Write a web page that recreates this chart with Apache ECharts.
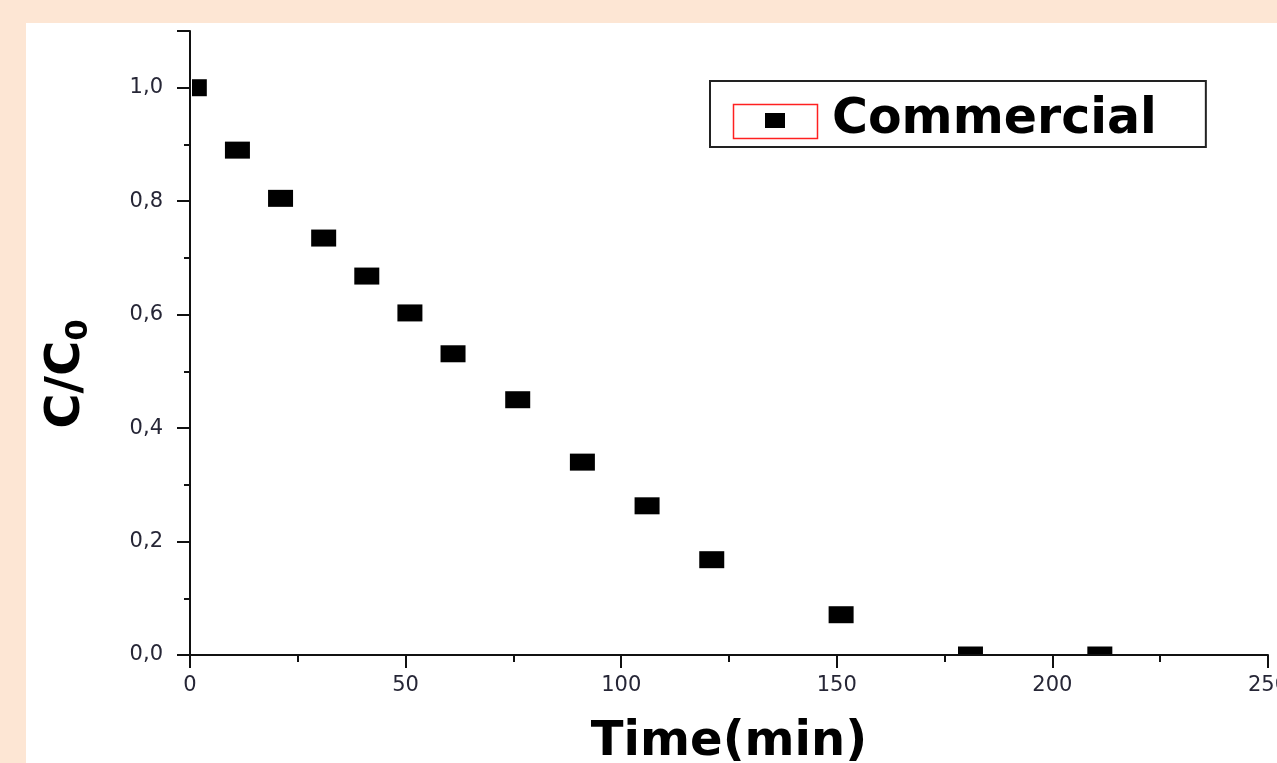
<!DOCTYPE html>
<html>
<head>
<meta charset="utf-8">
<script src="https://cdn.jsdelivr.net/npm/echarts@6/dist/echarts.min.js"></script>
<style>
html,body{margin:0;padding:0;background:#fde6d4;overflow:hidden;}
#c{width:1277px;height:763px;}
</style>
</head>
<body>
<div id="c"></div>
<script>
const seriesName = 'Commercial';
const timeMin = [1, 11, 21, 31, 41, 51, 61, 76, 91, 106, 121, 151, 181, 211];
const ratio = [1.0, 0.89, 0.805, 0.735, 0.668, 0.603, 0.531, 0.45, 0.34, 0.263, 0.168, 0.071, 0, 0];
const xTicks = [0, 50, 100, 150, 200, 250];
const yTicks = [0, 0.2, 0.4, 0.6, 0.8, 1.0];

const data = timeMin.map((t, i) => [t, ratio[i]]);
const chart = echarts.init(document.getElementById('c'), null, {renderer: 'canvas'});
const labelColor = '#262636';
const titleFont = 'DejaVu Sans';

chart.setOption({
  backgroundColor: '#fde6d4',
  animation: false,
  graphic: [
    {type: 'rect', left: 26, top: 23, z: -10, shape: {width: 1260, height: 750}, style: {fill: '#ffffff'}},
    {type: 'rect', left: 731, top: 102, z: 10, shape: {width: 84, height: 34}, style: {fill: 'none', stroke: '#ff2020', lineWidth: 1.5}}
  ],
  legend: {
    show: true,
    left: 710,
    top: 81,
    orient: 'horizontal',
    data: [{name: seriesName, icon: 'rect', itemStyle: {color: '#000'}}],
    itemWidth: 20,
    itemHeight: 15,
    padding: [15, 49, 2, 55],
    borderColor: '#222',
    borderWidth: 2,
    backgroundColor: '#fff',
    textStyle: {fontFamily: titleFont, fontWeight: 'bold', fontSize: 49, color: '#000', padding: [0, 0, 6, 42]}
  },
  grid: {left: 190, top: 31, width: 1078, height: 624, containLabel: false, outerBoundsMode: 'none'},
  xAxis: {
    type: 'value',
    min: 0, max: 250, interval: 50,
    name: 'Time(min)',
    nameLocation: 'middle',
    nameGap: 64,
    nameTextStyle: {fontFamily: titleFont, fontWeight: 'bold', fontSize: 48, color: '#000'},
    axisLine: {show: true, onZero: false, lineStyle: {color: '#111', width: 2}},
    axisTick: {show: true, inside: false, length: 13, lineStyle: {color: '#111', width: 2}},
    minorTick: {show: true, splitNumber: 2, length: 7, lineStyle: {color: '#111', width: 2}},
    splitLine: {show: false},
    axisLabel: {margin: 20, fontFamily: 'DejaVu Sans', fontSize: 21, color: labelColor,
      formatter: v => xTicks.includes(v) ? String(v) : ''}
  },
  yAxis: {
    type: 'value',
    min: 0, max: 1.1, interval: 0.2,
    name: '{m|C/C}{s|0}',
    nameLocation: 'middle',
    nameGap: 96,
    nameRotate: 90,
    nameTextStyle: {
      fontFamily: titleFont, fontWeight: 'bold', fontSize: 48, color: '#000',
      padding: [0, 62, 0, 0],
      rich: {
        m: {fontFamily: titleFont, fontWeight: 'bold', fontSize: 48, color: '#000'},
        s: {fontFamily: titleFont, fontWeight: 'bold', fontSize: 31, color: '#000', padding: [24, 0, 0, 0]}
      }
    },
    axisLine: {show: true, onZero: false, lineStyle: {color: '#111', width: 2}},
    axisTick: {show: true, inside: false, length: 13, lineStyle: {color: '#111', width: 2}},
    minorTick: {show: true, splitNumber: 2, length: 6, lineStyle: {color: '#111', width: 2}},
    splitLine: {show: false},
    axisLabel: {margin: 27, fontFamily: 'DejaVu Sans', fontSize: 21, color: labelColor,
      showMaxLabel: false,
      formatter: v => {
        const hit = yTicks.find(t => Math.abs(t - v) < 1e-6);
        return hit === undefined ? '' : hit.toFixed(1).replace('.', ',');
      }}
  },
  series: [{
    name: seriesName,
    type: 'custom',
    data: data,
    encode: {x: 0, y: 1},
    renderItem: function (params, api) {
      const p = api.coord([api.value(0), api.value(1)]);
      const w = 25, h = 17;
      const cs = params.coordSys;
      const r = echarts.graphic.clipRectByRect(
        {x: p[0] - w / 2, y: p[1] - h / 2, width: w, height: h},
        {x: cs.x + 2, y: cs.y, width: cs.width, height: cs.height - 1}
      );
      if (!r) return null;
      return {type: 'rect', shape: r, style: {fill: '#000'}};
    }
  }]
});
</script>
</body>
</html>
